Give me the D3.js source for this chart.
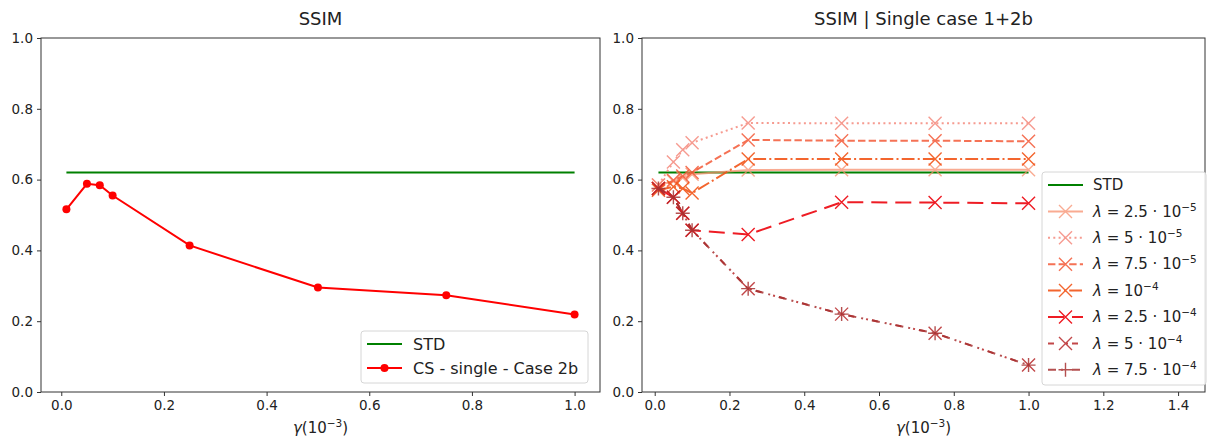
<!DOCTYPE html>
<html>
<head>
<meta charset="utf-8">
<script src="https://cdn.jsdelivr.net/npm/d3@7"></script>
<style>
  body { margin: 0; background: #fff; }
  text { font-family: "DejaVu Sans", sans-serif; fill: #222; }
</style>
</head>
<body>
<div id="chart"></div>
<script>
// data
var gamma = [0.01, 0.05, 0.075, 0.1, 0.25, 0.5, 0.75, 1.0];
var stdValue = 0.62;
var csSingle = [0.516, 0.588, 0.584, 0.555, 0.414, 0.295, 0.273, 0.219];

var lam25e5 = [0.585, 0.595, 0.605, 0.615, 0.627, 0.628, 0.628, 0.628];
var lam5e5  = [0.585, 0.650, 0.684, 0.704, 0.760, 0.759, 0.759, 0.759];
var lam75e5 = [0.575, 0.598, 0.610, 0.620, 0.712, 0.710, 0.710, 0.708];
var lam1e4  = [0.570, 0.580, 0.575, 0.562, 0.658, 0.658, 0.658, 0.658];
var lam25e4 = [0.575, 0.550, 0.505, 0.457, 0.445, 0.536, 0.535, 0.533];
var lam5e4  = [0.575, 0.550, 0.505, 0.457, 0.292, 0.220, 0.166, 0.076];
var lam75e4 = [0.575, 0.550, 0.505, 0.457, 0.292, 0.220, 0.166, 0.076];

var lamMant = ["2.5", "5", "7.5", "", "2.5", "5", "7.5"];
var lamExp  = ["\u22125", "\u22125", "\u22125", "\u22124", "\u22124", "\u22124", "\u22124"];
var yTicks = [0, 0.2, 0.4, 0.6, 0.8, 1.0];
var xTicksLeft = [0, 0.2, 0.4, 0.6, 0.8, 1.0];
var xTicksRight = [0, 0.2, 0.4, 0.6, 0.8, 1.0, 1.2, 1.4];

var series = [
  { vals: lam25e5, color: "#f8906e", dash: null,             marker: "x", op: 0.75 },
  { vals: lam5e5,  color: "#f47a6c", dash: "2,3.3",          marker: "x", op: 0.75 },
  { vals: lam75e5, color: "#f45a38", dash: "7.4,3.2",        marker: "x", op: 0.85 },
  { vals: lam1e4,  color: "#f25518", dash: "12.8,3.2,2,3.2", marker: "x", op: 0.9 },
  { vals: lam25e4, color: "#ee1c24", dash: "16,8",           marker: "x", op: 1 },
  { vals: lam5e4,  color: "#b8282a", dash: "6,12,2,4",       marker: "x", op: 0.85 },
  { vals: lam75e4, color: "#a83232", dash: "8,5,2,9",        marker: "+", op: 0.85 }
];

var W = 1208, H = 439;
var svg = d3.select("#chart").append("svg")
  .attr("width", W).attr("height", H);

var y = d3.scaleLinear().domain([0, 1]).range([392, 38]);
var xL = d3.scaleLinear().domain([-0.0395, 1.0495]).range([41, 600]);
var xR = d3.scaleLinear().domain([-0.034, 1.472]).range([642, 1205]);

function drawAxes(x, ticks, title) {
  var g = svg.append("g");
  var x0 = x.range()[0], x1 = x.range()[1];
  g.append("g")
    .attr("transform", "translate(0,392)")
    .call(d3.axisBottom(x).tickValues(ticks).tickFormat(d3.format(".1f")).tickSize(4).tickPadding(4))
    .call(a => a.select(".domain").remove())
    .selectAll("text").attr("font-size", 13.5).attr("fill", "#222");
  g.append("g")
    .attr("transform", "translate(" + x0 + ",0)")
    .call(d3.axisLeft(y).tickValues(yTicks).tickFormat(d3.format(".1f")).tickSize(4).tickPadding(4))
    .call(a => a.select(".domain").remove())
    .selectAll("text").attr("font-size", 13.5).attr("fill", "#222");
  g.selectAll(".tick line").attr("stroke", "#333");
  g.append("rect")
    .attr("x", x0).attr("y", 38).attr("width", x1 - x0).attr("height", 354)
    .attr("fill", "none").attr("stroke", "#333").attr("stroke-width", 1);
  svg.append("text")
    .attr("x", (x0 + x1) / 2).attr("y", 25)
    .attr("text-anchor", "middle").attr("font-size", 18)
    .text(title);
  var xl = svg.append("text")
    .attr("x", (x0 + x1) / 2).attr("y", 433)
    .attr("text-anchor", "middle").attr("font-size", 15);
  xl.append("tspan").attr("font-style", "italic").text("\u03b3");
  xl.append("tspan").text("(10");
  xl.append("tspan").attr("font-size", 10.5).attr("dy", -6).text("\u22123");
  xl.append("tspan").attr("dy", 6).text(")");
}

function xMark(g, cx, cy, s, color, w) {
  g.append("path")
    .attr("d", "M" + (cx - s) + "," + (cy - s) + "L" + (cx + s) + "," + (cy + s) +
      "M" + (cx - s) + "," + (cy + s) + "L" + (cx + s) + "," + (cy - s))
    .attr("stroke", color).attr("stroke-width", w).attr("fill", "none");
}
function plusMark(g, cx, cy, s, color, w) {
  g.append("path")
    .attr("d", "M" + (cx - s) + "," + cy + "L" + (cx + s) + "," + cy +
      "M" + cx + "," + (cy - s) + "L" + cx + "," + (cy + s))
    .attr("stroke", color).attr("stroke-width", w).attr("fill", "none");
}

// ---------- left panel ----------
drawAxes(xL, xTicksLeft, "SSIM");

var lineL = d3.line().x((d, i) => xL(gamma[i])).y(d => y(d));
svg.append("path")
  .datum([stdValue, stdValue])
  .attr("d", d3.line().x((d, i) => xL(i === 0 ? gamma[0] : gamma[gamma.length - 1])).y(d => y(d)))
  .attr("stroke", "green").attr("stroke-width", 2).attr("fill", "none");
svg.append("path")
  .datum(csSingle)
  .attr("d", lineL)
  .attr("stroke", "red").attr("stroke-width", 2).attr("fill", "none");
svg.selectAll(".csdot").data(csSingle).enter().append("circle")
  .attr("cx", (d, i) => xL(gamma[i])).attr("cy", d => y(d)).attr("r", 4)
  .attr("fill", "red");

// left legend
var legL = svg.append("g");
legL.append("rect")
  .attr("x", 361).attr("y", 331).attr("width", 227).attr("height", 52).attr("rx", 3)
  .attr("fill", "white").attr("fill-opacity", 0.85).attr("stroke", "#d6d6d6");
legL.append("line").attr("x1", 367).attr("x2", 402).attr("y1", 344).attr("y2", 344)
  .attr("stroke", "green").attr("stroke-width", 2);
legL.append("line").attr("x1", 367).attr("x2", 402).attr("y1", 368).attr("y2", 368)
  .attr("stroke", "red").attr("stroke-width", 2);
legL.append("circle").attr("cx", 384.5).attr("cy", 368).attr("r", 4).attr("fill", "red");
legL.append("text").attr("x", 413).attr("y", 344).attr("dy", "0.35em").attr("font-size", 16).text("STD");
legL.append("text").attr("x", 413).attr("y", 368).attr("dy", "0.35em").attr("font-size", 16).text("CS - single - Case 2b");

// ---------- right panel ----------
drawAxes(xR, xTicksRight, "SSIM | Single case 1+2b");

var lineR = d3.line().x((d, i) => xR(gamma[i])).y(d => y(d));
svg.append("path")
  .datum([stdValue, stdValue])
  .attr("d", d3.line().x((d, i) => xR(i === 0 ? gamma[0] : gamma[gamma.length - 1])).y(d => y(d)))
  .attr("stroke", "green").attr("stroke-width", 2).attr("fill", "none");

series.forEach(function(s) {
  var g = svg.append("g").attr("opacity", s.op);
  g.append("path")
    .datum(s.vals)
    .attr("d", lineR)
    .attr("stroke", s.color).attr("stroke-width", 2).attr("fill", "none")
    .attr("stroke-dasharray", s.dash);
  s.vals.forEach(function(v, i) {
    if (s.marker === "x") xMark(g, xR(gamma[i]), y(v), 6.5, s.color, 1.4);
    else plusMark(g, xR(gamma[i]), y(v), 7, s.color, 1.4);
  });
});

// right legend
var legR = svg.append("g");
legR.append("rect")
  .attr("x", 1042).attr("y", 172).attr("width", 164).attr("height", 213).attr("rx", 3)
  .attr("fill", "white").attr("fill-opacity", 0.85).attr("stroke", "#d6d6d6");
var rowY = d3.range(8).map(i => 185 + i * 26.4);
legR.append("line").attr("x1", 1048).attr("x2", 1083).attr("y1", rowY[0]).attr("y2", rowY[0])
  .attr("stroke", "green").attr("stroke-width", 2);
legR.append("text").attr("x", 1093).attr("y", rowY[0]).attr("dy", "0.35em").attr("font-size", 15).text("STD");
series.forEach(function(s, k) {
  var ry = rowY[k + 1];
  var g = legR.append("g").attr("opacity", s.op);
  g.append("line").attr("x1", 1048).attr("x2", 1083).attr("y1", ry).attr("y2", ry)
    .attr("stroke", s.color).attr("stroke-width", 2).attr("stroke-dasharray", s.dash);
  if (s.marker === "x") xMark(g, 1065.5, ry, 6.5, s.color, 1.4);
  else plusMark(g, 1065.5, ry, 7, s.color, 1.4);
  var t = legR.append("text").attr("x", 1093).attr("y", ry).attr("dy", "0.35em").attr("font-size", 15);
  t.append("tspan").attr("font-style", "italic").text("\u03bb");
  t.append("tspan").text(lamMant[k] ? " = " + lamMant[k] + " \u00b7 10" : " = 10");
  t.append("tspan").attr("font-size", 10.5).attr("dy", -6).text(lamExp[k]);
});
</script>
</body>
</html>
